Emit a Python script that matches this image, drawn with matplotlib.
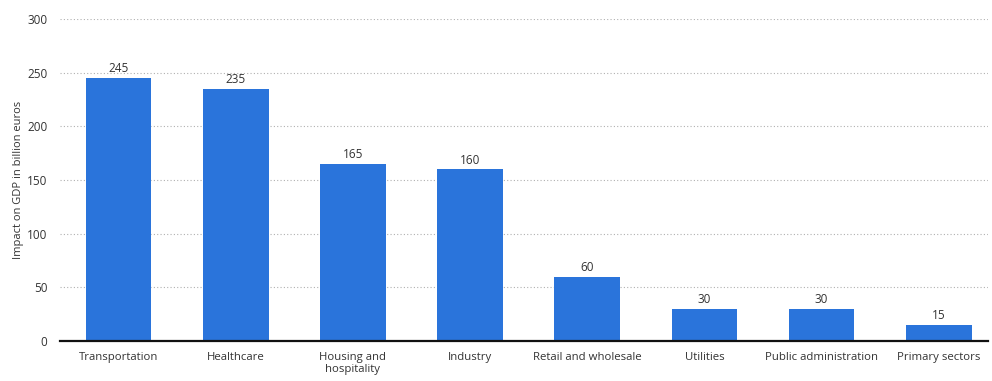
import matplotlib.pyplot as plt

plt.rcParams['font.family'] = ['Open Sans', 'DejaVu Sans']

sectors = ["Transportation", "Healthcare", "Housing and\nhospitality", "Industry",
           "Retail and wholesale", "Utilities", "Public administration", "Primary sectors"]
impact = [245, 235, 165, 160, 60, 30, 30, 15]
yticks = [0, 50, 100, 150, 200, 250, 300]

fig = plt.figure(figsize=(9.92, 3.81), dpi=100)
ax = fig.add_axes([60 / 992, 1 - 341 / 381, 928 / 992, 322 / 381])

x = range(len(sectors))
bars = ax.bar(x, impact, width=0.56, color="#2a74db", zorder=3)
for xi, v in zip(x, impact):
    ax.text(xi, v + 2.5, str(v), ha="center", va="bottom", fontsize=8.5, color="#333333")

ax.set_xlim(-0.5, 7.42)
ax.set_ylim(0, 300)
ax.set_yticks(yticks)
ax.set_xticks(list(x))
ax.set_xticklabels(sectors, fontsize=8.2, color="#333333", linespacing=1.15, va="top")
ax.tick_params(axis="y", labelsize=8.5, colors="#333333", length=0, pad=9)
ax.tick_params(axis="x", length=0, pad=8)

ax.grid(axis="y", linestyle=(0, (1, 2)), color="#b0b0b0", linewidth=0.8, zorder=0)
for s in ["top", "right", "left"]:
    ax.spines[s].set_visible(False)
ax.spines["bottom"].set_color("#111111")
ax.spines["bottom"].set_linewidth(1.6)
ax.spines["bottom"].set_zorder(4)

ax.set_ylabel("Impact on GDP in billion euros", fontsize=8, color="#333333")
ax.yaxis.set_label_coords(-0.039, 0.5)

fig.savefig("out.png", dpi=100)
